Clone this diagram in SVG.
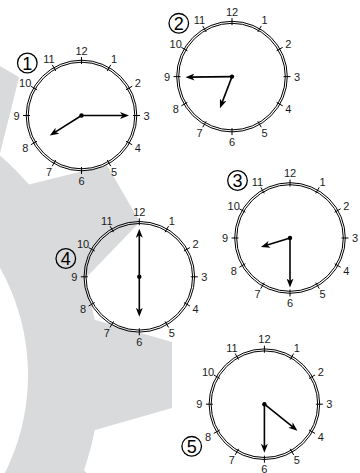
<svg xmlns="http://www.w3.org/2000/svg" xmlns:xlink="http://www.w3.org/1999/xlink" width="360" height="473" viewBox="0 0 360 473">
<defs>
<style>
.ring{fill:none;stroke:#000;stroke-width:1}
.tick{fill:none;stroke:#000;stroke-width:1}
.num{font-family:"Liberation Sans",Arial,sans-serif;font-size:11px;fill:#1a1a1a;text-anchor:middle}
.hand{stroke:#000;stroke-width:1.6;fill:none;marker-end:url(#arr)}
.dot{fill:#000}
.badge circle{fill:none;stroke:#000;stroke-width:1.3}
.badge text{font-family:"Liberation Sans",Arial,sans-serif;font-size:18px;fill:#000;text-anchor:middle}
.gear{fill:#d9dadc}
</style>
<marker id="arr" markerUnits="userSpaceOnUse" viewBox="0 0 9 7" markerWidth="9" markerHeight="7" refX="5" refY="3.5" orient="auto">
<path d="M0,0 L9,3.5 L0,7 L2.5,3.5 Z" fill="#000"/>
</marker>
<path id="tooth" d="M280,-56.7 L363,-33 L363,33 L280,56.7 Z"/>
</defs>

<g id="gear" class="gear" transform="translate(-191 375)">
<path fill-rule="evenodd" d="M291,0 A291,291 0 1 0 -291,0 A291,291 0 1 0 291,0 Z M219,0 A219,219 0 1 1 -219,0 A219,219 0 1 1 219,0 Z"/>
<use xlink:href="#tooth" transform="rotate(-60)"/>
<use xlink:href="#tooth" transform="rotate(-30)"/>
<use xlink:href="#tooth"/>
<use xlink:href="#tooth" transform="rotate(30)"/>
<use xlink:href="#tooth" transform="rotate(60)"/>
</g>

<g id="clock1" transform="translate(81.5 115.5)">
<circle class="ring" r="55.3"/><circle class="ring" r="53.3"/>
<path class="tick" d="M0,-51.5V-58.5M51.5,0H58.5M0,51.5V58.5M-51.5,0H-58.5M25.75,-44.6L29.25,-50.66M44.6,-25.75L50.66,-29.25M44.6,25.75L50.66,29.25M25.75,44.6L29.25,50.66M-25.75,44.6L-29.25,50.66M-44.6,25.75L-50.66,29.25M-44.6,-25.75L-50.66,-29.25M-25.75,-44.6L-29.25,-50.66"/>
<text class="num" x="0" y="-61">12</text><text class="num" x="32.5" y="-52.3">1</text><text class="num" x="56.3" y="-28.5">2</text><text class="num" x="65" y="4">3</text><text class="num" x="56.3" y="36.5">4</text><text class="num" x="32.5" y="60.3">5</text><text class="num" x="0" y="69">6</text><text class="num" x="-32.5" y="60.3">7</text><text class="num" x="-56.3" y="36.5">8</text><text class="num" x="-65" y="4">9</text><text class="num" x="-56.3" y="-28.5">10</text><text class="num" x="-32.5" y="-52.3">11</text>
<line class="hand" x1="0" y1="0" x2="43.5" y2="0"/>
<line class="hand" x1="0" y1="0" x2="-28.3" y2="17.9"/>
<circle class="dot" r="2.2"/>
</g>
<g id="badge1" class="badge"><circle cx="27.3" cy="63" r="9.8"/><text x="27.3" y="69.5">1</text></g>

<g id="clock2" transform="translate(232 76.6)">
<circle class="ring" r="55.3"/><circle class="ring" r="53.3"/>
<path class="tick" d="M0,-51.5V-58.5M51.5,0H58.5M0,51.5V58.5M-51.5,0H-58.5M25.75,-44.6L29.25,-50.66M44.6,-25.75L50.66,-29.25M44.6,25.75L50.66,29.25M25.75,44.6L29.25,50.66M-25.75,44.6L-29.25,50.66M-44.6,25.75L-50.66,29.25M-44.6,-25.75L-50.66,-29.25M-25.75,-44.6L-29.25,-50.66"/>
<text class="num" x="0" y="-61">12</text><text class="num" x="32.5" y="-52.3">1</text><text class="num" x="56.3" y="-28.5">2</text><text class="num" x="65" y="4">3</text><text class="num" x="56.3" y="36.5">4</text><text class="num" x="32.5" y="60.3">5</text><text class="num" x="0" y="69">6</text><text class="num" x="-32.5" y="60.3">7</text><text class="num" x="-56.3" y="36.5">8</text><text class="num" x="-65" y="4">9</text><text class="num" x="-56.3" y="-28.5">10</text><text class="num" x="-32.5" y="-52.3">11</text>
<line class="hand" x1="0" y1="0" x2="-42.5" y2="0.5"/>
<line class="hand" x1="0" y1="0" x2="-10.6" y2="27.8"/>
<circle class="dot" r="2.2"/>
</g>
<g id="badge2" class="badge"><circle cx="178.8" cy="23.3" r="9.8"/><text x="178.8" y="29.8">2</text></g>

<g id="clock3" transform="translate(290 238)">
<circle class="ring" r="55.3"/><circle class="ring" r="53.3"/>
<path class="tick" d="M0,-51.5V-58.5M51.5,0H58.5M0,51.5V58.5M-51.5,0H-58.5M25.75,-44.6L29.25,-50.66M44.6,-25.75L50.66,-29.25M44.6,25.75L50.66,29.25M25.75,44.6L29.25,50.66M-25.75,44.6L-29.25,50.66M-44.6,25.75L-50.66,29.25M-44.6,-25.75L-50.66,-29.25M-25.75,-44.6L-29.25,-50.66"/>
<text class="num" x="0" y="-61">12</text><text class="num" x="32.5" y="-52.3">1</text><text class="num" x="56.3" y="-28.5">2</text><text class="num" x="65" y="4">3</text><text class="num" x="56.3" y="36.5">4</text><text class="num" x="32.5" y="60.3">5</text><text class="num" x="0" y="69">6</text><text class="num" x="-32.5" y="60.3">7</text><text class="num" x="-56.3" y="36.5">8</text><text class="num" x="-65" y="4">9</text><text class="num" x="-56.3" y="-28.5">10</text><text class="num" x="-32.5" y="-52.3">11</text>
<line class="hand" x1="0" y1="0" x2="0" y2="45.5"/>
<line class="hand" x1="0" y1="0" x2="-25.2" y2="7.8"/>
<circle class="dot" r="2.2"/>
</g>
<g id="badge3" class="badge"><circle cx="237.5" cy="180.5" r="9.8"/><text x="237.5" y="187">3</text></g>

<g id="clock4" transform="translate(139.3 276.8)">
<circle class="ring" r="55.3"/><circle class="ring" r="53.3"/>
<path class="tick" d="M0,-51.5V-58.5M51.5,0H58.5M0,51.5V58.5M-51.5,0H-58.5M25.75,-44.6L29.25,-50.66M44.6,-25.75L50.66,-29.25M44.6,25.75L50.66,29.25M25.75,44.6L29.25,50.66M-25.75,44.6L-29.25,50.66M-44.6,25.75L-50.66,29.25M-44.6,-25.75L-50.66,-29.25M-25.75,-44.6L-29.25,-50.66"/>
<text class="num" x="0" y="-61">12</text><text class="num" x="32.5" y="-52.3">1</text><text class="num" x="56.3" y="-28.5">2</text><text class="num" x="65" y="4">3</text><text class="num" x="56.3" y="36.5">4</text><text class="num" x="32.5" y="60.3">5</text><text class="num" x="0" y="69">6</text><text class="num" x="-32.5" y="60.3">7</text><text class="num" x="-56.3" y="36.5">8</text><text class="num" x="-65" y="4">9</text><text class="num" x="-56.3" y="-28.5">10</text><text class="num" x="-32.5" y="-52.3">11</text>
<line class="hand" x1="0" y1="0" x2="0" y2="-44"/>
<line class="hand" x1="0" y1="0" x2="0" y2="36"/>
<circle class="dot" r="2.2"/>
</g>
<g id="badge4" class="badge"><circle cx="65.8" cy="258.5" r="9.8"/><text x="65.8" y="265">4</text></g>

<g id="clock5" transform="translate(264.4 404.2)">
<circle class="ring" r="55.3"/><circle class="ring" r="53.3"/>
<path class="tick" d="M0,-51.5V-58.5M51.5,0H58.5M0,51.5V58.5M-51.5,0H-58.5M25.75,-44.6L29.25,-50.66M44.6,-25.75L50.66,-29.25M44.6,25.75L50.66,29.25M25.75,44.6L29.25,50.66M-25.75,44.6L-29.25,50.66M-44.6,25.75L-50.66,29.25M-44.6,-25.75L-50.66,-29.25M-25.75,-44.6L-29.25,-50.66"/>
<text class="num" x="0" y="-61">12</text><text class="num" x="32.5" y="-52.3">1</text><text class="num" x="56.3" y="-28.5">2</text><text class="num" x="65" y="4">3</text><text class="num" x="56.3" y="36.5">4</text><text class="num" x="32.5" y="60.3">5</text><text class="num" x="0" y="69">6</text><text class="num" x="-32.5" y="60.3">7</text><text class="num" x="-56.3" y="36.5">8</text><text class="num" x="-65" y="4">9</text><text class="num" x="-56.3" y="-28.5">10</text><text class="num" x="-32.5" y="-52.3">11</text>
<line class="hand" x1="0" y1="0" x2="0" y2="44.5"/>
<line class="hand" x1="0" y1="0" x2="29.9" y2="24"/>
<circle class="dot" r="2.2"/>
</g>
<g id="badge5" class="badge"><circle cx="191.7" cy="446.3" r="9.8"/><text x="191.7" y="452.8">5</text></g>
</svg>
